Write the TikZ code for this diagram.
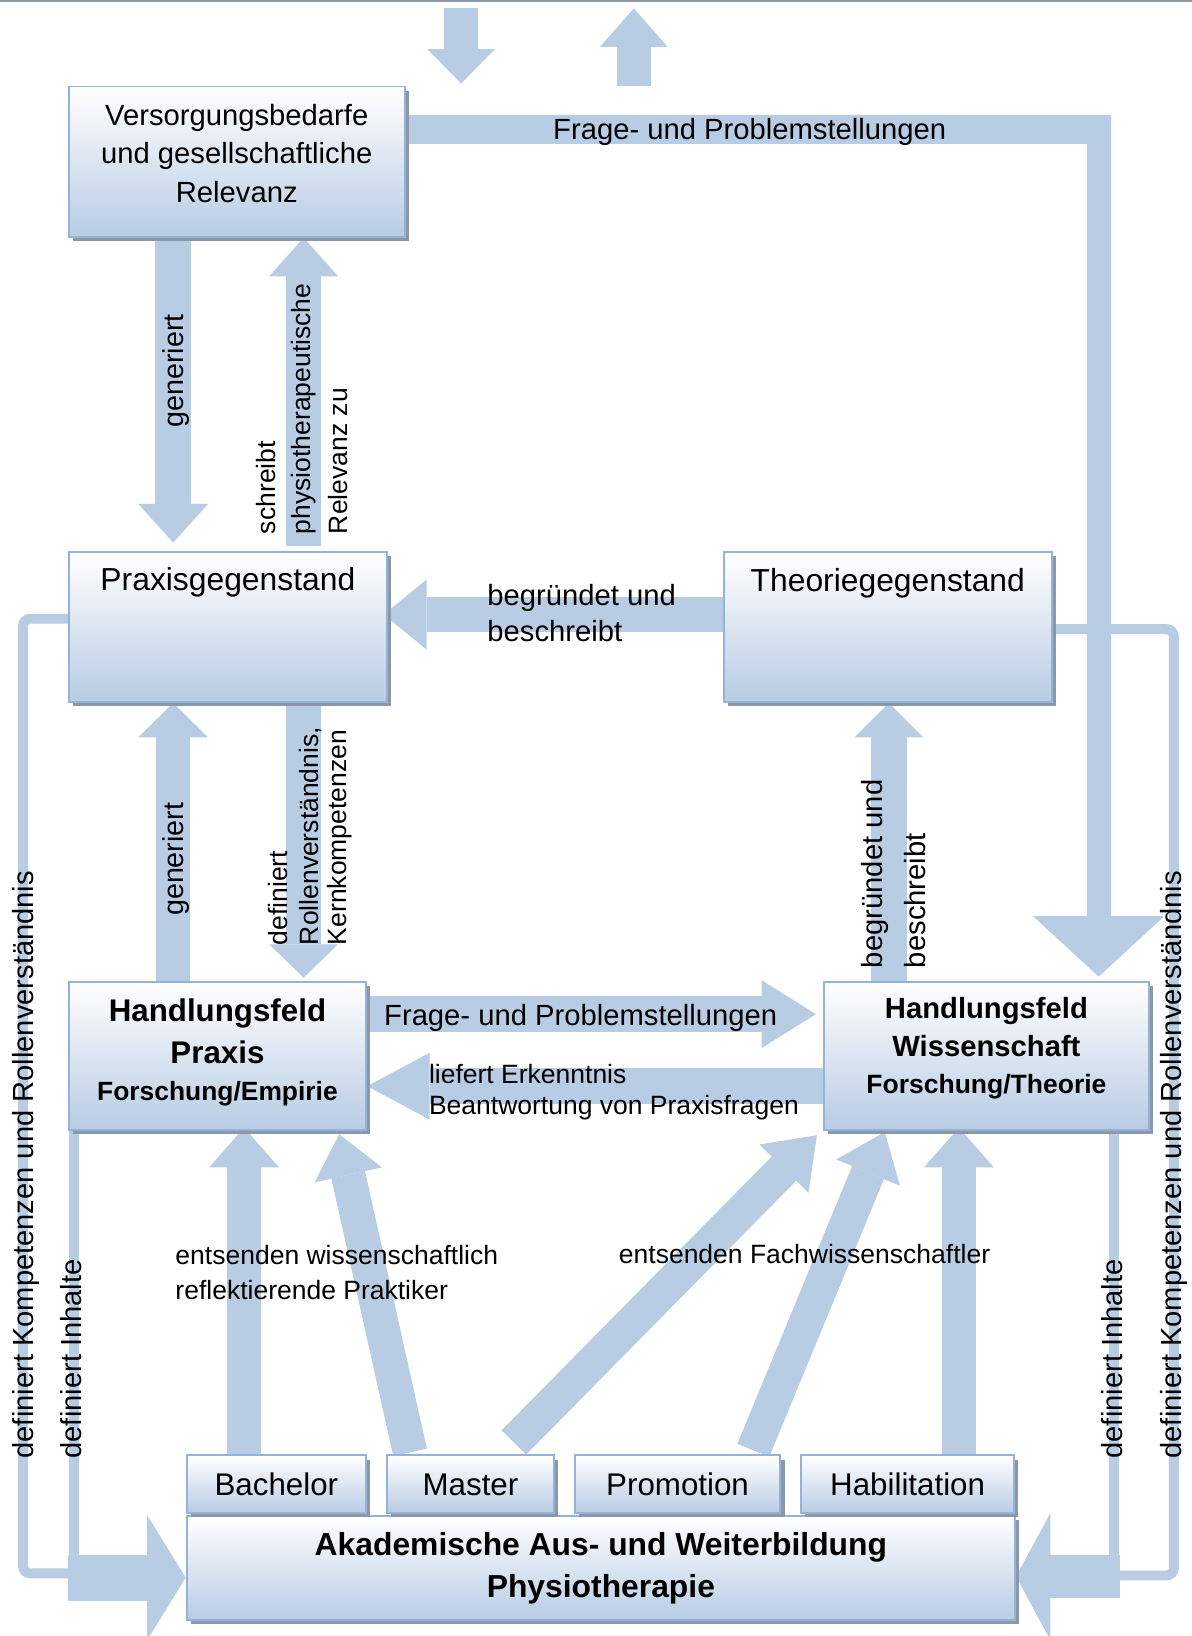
\documentclass[tikz,border=0pt]{standalone}
\usepackage{fontspec}
\setmainfont{Liberation Sans}
\usetikzlibrary{arrows.meta,shadows}
\definecolor{arrowblue}{RGB}{184,204,228}
\definecolor{boxborder}{RGB}{149,179,215}
\definecolor{boxblue}{RGB}{184,204,228}
\definecolor{shadowgray}{RGB}{140,152,170}
\newcommand{\fs}[1]{\fontsize{#1}{#1}\selectfont}
\pgfdeclarelayer{bg}
\pgfsetlayers{bg,main}
\tikzset{
  box/.style={draw=boxborder, line width=1.8pt, top color=white, bottom color=boxblue,
    inner sep=0pt, anchor=north west,
    drop shadow={shadow xshift=4pt, shadow yshift=-4pt, fill=shadowgray, opacity=1}},
  barrow/.style n args={3}{draw=arrowblue, line width=#1, line cap=butt,
    -{Triangle[width=#2, length=#3, line width=0pt]}},
  thinl/.style={draw=arrowblue, line width=9.5pt, rounded corners=7pt},
  lab/.style={inner sep=0pt, text=black},
}
\begin{document}
\begin{tikzpicture}[x=1pt,y=-1pt]
\useasboundingbox (0,0) rectangle (1142,1568);
\clip (0,0) rectangle (1142,1568);
% boxes
\node[box, minimum width=322pt, minimum height=144pt] (vers) at (65,82) {};
\node[box, minimum width=305pt, minimum height=144pt] (praxg) at (65,528) {};
\node[box, minimum width=314pt, minimum height=144pt] (theog) at (693,528) {};
\node[box, minimum width=285pt, minimum height=142pt] (hp) at (65,940) {};
\node[box, minimum width=311pt, minimum height=142pt] (hw) at (789,940) {};
\node[box, minimum width=794pt, minimum height=100pt] (akad) at (178,1452) {};
\node[box, minimum width=172pt, minimum height=55pt] (bach) at (178,1394) {};
\node[box, minimum width=160pt, minimum height=55pt] (mast) at (370,1394) {};
\node[box, minimum width=197pt, minimum height=55pt] (prom) at (550,1394) {};
\node[box, minimum width=204pt, minimum height=55pt] (habil) at (767,1394) {};

\begin{pgfonlayer}{bg}
\fill[white] (0,0) rectangle (1142,1568);
\draw[shadowgray, line width=1.5pt] (0,0.8) -- (1142,0.8);
% top free arrows
\coordinate (ta1) at (442,8); \coordinate (ta2) at (442,80);
\draw[barrow={32pt}{65pt}{33pt}] (ta1) -- (ta2);
\coordinate (tb1) at (607.5,82); \coordinate (tb2) at (607.5,8);
\draw[barrow={33pt}{65pt}{37pt}] (tb1) -- (tb2);
% L-shaped arrow Frage- und Problemstellungen
\coordinate (ltip) at (1053,936);
\fill[arrowblue] (vers.east |- 0,110) -- (1065,110) -- (1065,878) -- (1116,878) -- (ltip)
  -- (990,878) -- (1042,878) -- (1042,138) -- (vers.east |- 0,138) -- cycle;
% vertical arrows between boxes
\draw[barrow={34pt}{67pt}{37pt}, shorten >=8pt] (vers.south -| 166,0) -- (praxg.north -| 166,0);
\draw[barrow={33pt}{66pt}{37pt}, shorten <=5pt] (praxg.north -| 291,0) -- (vers.south -| 291,0);
\draw[barrow={33pt}{67pt}{41pt}, shorten >=-4pt] (theog.west |- 0,589) -- (praxg.east |- 0,589);
\draw[barrow={33pt}{67pt}{33pt}] (hp.north -| 166,0) -- (praxg.south -| 166,0);
\draw[barrow={33pt}{66pt}{32pt}, shorten >=3pt] (praxg.south -| 291,0) -- (hp.north -| 291,0);
\draw[barrow={34pt}{66pt}{33pt}] (hw.north -| 852,0) -- (theog.south -| 852,0);
% horizontal arrows between Handlungsfelder
\draw[barrow={35pt}{65pt}{52pt}, shorten >=7pt] (hp.east |- 0,972) -- (hw.west |- 0,972);
\draw[barrow={34pt}{64pt}{60pt}] (hw.west |- 0,1041) -- (hp.east |- 0,1041);
% arrows from the degrees
\draw[barrow={32pt}{67pt}{38pt}, shorten >=-3pt] (bach.north -| 234,0) -- (hp.south -| 234,0);
\draw[barrow={32pt}{67pt}{38pt}, shorten >=-3pt] (habil.north -| 919,0) -- (hw.south -| 919,0);
\coordinate (m1) at (393,1392); \coordinate (m1t) at (325,1087);
\draw[barrow={33pt}{66pt}{40pt}] (m1) -- (m1t);
\coordinate (m2) at (492.5,1382.5); \coordinate (m2t) at (783,1088);
\draw[barrow={33pt}{66pt}{45pt}] (m2) -- (m2t);
\coordinate (p1) at (722,1390); \coordinate (p1t) at (848,1085);
\draw[barrow={33pt}{66pt}{42pt}] (p1) -- (p1t);
% thin lines and big bottom arrows
\coordinate (lbig) at (65,1512);
\coordinate (rbig) at (1073,1511);
\draw[thinl] (praxg.west |- 0,593) -| (22,1508) -- (lbig |- 0,1508);
\draw[thinl] (hp.south -| 70.5,0) -- (70.5,1500);
\draw[thinl] (theog.east |- 0,603) -| (1125,1510) -- (rbig |- 0,1510);
\draw[thinl] (hw.south -| 1068,0) -- (1068,1500);
\draw[barrow={44pt}{120pt}{37pt}] (lbig) -- (akad.west |- 0,1512);
\draw[barrow={42pt}{122pt}{33pt}] (rbig) -- (akad.east |- 0,1511);
\end{pgfonlayer}

% box texts
\node[lab, anchor=base, font=\fs{28}] (v1) at (vers.north |- 0,120) {Versorgungsbedarfe};
\node[lab, anchor=base, font=\fs{28}] (v2) at (vers.north |- 0,157) {und gesellschaftliche};
\node[lab, anchor=base, font=\fs{28}] (v3) at (vers.north |- 0,194) {Relevanz};
\node[lab, anchor=base, font=\fs{30.5}] (pgt) at (praxg.north |- 0,566) {Praxisgegenstand};
\node[lab, anchor=base, font=\fs{30.5}] (tgt) at (theog.north |- 0,567) {Theoriegegenstand};
\node[lab, anchor=base, font=\bfseries\fs{30}] (hp1) at (hp.north |- 0,979) {Handlungsfeld};
\node[lab, anchor=base, font=\bfseries\fs{30}] (hp2) at (hp.north |- 0,1019) {Praxis};
\node[lab, anchor=base, font=\bfseries\fs{25.3}] (hp3) at (hp.north |- 0,1055) {Forschung/Empirie};
\node[lab, anchor=base, font=\bfseries\fs{28}] (hw1) at (hw.north |- 0,976) {Handlungsfeld};
\node[lab, anchor=base, font=\bfseries\fs{28}] (hw2) at (hw.north |- 0,1013) {Wissenschaft};
\node[lab, anchor=base, font=\bfseries\fs{25.4}] (hw3) at (hw.north |- 0,1048) {Forschung/Theorie};
\node[lab, anchor=base, font=\fs{30}] (bt) at (bach.north |- 0,1433) {Bachelor};
\node[lab, anchor=base, font=\fs{30}] (mt) at (mast.north |- 0,1433) {Master};
\node[lab, anchor=base, font=\fs{30}] (prt) at (prom.north |- 0,1433) {Promotion};
\node[lab, anchor=base, font=\fs{30}] (ht) at (habil.north |- 0,1433) {Habilitation};
\node[lab, anchor=base, font=\bfseries\fs{30.5}] (a1) at (akad.north |- 0,1491) {Akademische Aus- und Weiterbildung};
\node[lab, anchor=base, font=\bfseries\fs{30.5}] (a2) at (akad.north |- 0,1531) {Physiotherapie};

% horizontal labels
\node[lab, anchor=base west, font=\fs{28}] (lf1) at (530,134) {Frage- und Problemstellungen};
\node[lab, anchor=base west, font=\fs{28}] (lb1) at (467,580) {begründet und};
\node[lab, anchor=base west, font=\fs{28}] (lb2) at (467,615) {beschreibt};
\node[lab, anchor=base west, font=\fs{28}] (lf2) at (368,983) {Frage- und Problemstellungen};
\node[lab, anchor=base west, font=\fs{25.4}] (ll1) at (411,1038) {liefert Erkenntnis};
\node[lab, anchor=base west, font=\fs{25.4}] (ll2) at (411,1068) {Beantwortung von Praxisfragen};
\node[lab, anchor=base west, font=\fs{25.4}] (le1) at (168,1212) {entsenden wissenschaftlich};
\node[lab, anchor=base west, font=\fs{25.4}] (le2) at (168,1245) {reflektierende Praktiker};
\node[lab, anchor=base west, font=\fs{25.4}] (le3) at (593,1211) {entsenden Fachwissenschaftler};

% rotated labels
\node[lab, rotate=90, anchor=base west, font=\fs{27.5}] (rg1) at (176,410) {generiert};
\node[lab, rotate=90, anchor=base west, font=\fs{25.4}] (rs1) at (264,512) {schreibt};
\node[lab, rotate=90, anchor=base west, font=\fs{25.4}] (rs2) at (298,512) {physiotherapeutische};
\node[lab, rotate=90, anchor=base west, font=\fs{25.4}] (rs3) at (333,512) {Relevanz zu};
\node[lab, rotate=90, anchor=base west, font=\fs{27.5}] (rg2) at (176,878) {generiert};
\node[lab, rotate=90, anchor=base west, font=\fs{25.4}] (rd1) at (276,906) {definiert};
\node[lab, rotate=90, anchor=base west, font=\fs{25.4}] (rd2) at (305,906) {Rollenverständnis,};
\node[lab, rotate=90, anchor=base west, font=\fs{25.4}] (rd3) at (332,906) {Kernkompetenzen};
\node[lab, rotate=90, anchor=base west, font=\fs{28}] (rb1) at (846,928) {begründet und};
\node[lab, rotate=90, anchor=base west, font=\fs{28}] (rb2) at (887,928) {beschreibt};
\node[lab, rotate=90, anchor=base west, font=\fs{27.9}] (rk1) at (32,1398) {definiert Kompetenzen und Rollenverständnis};
\node[lab, rotate=90, anchor=base west, font=\fs{27.9}] (ri1) at (78.5,1398) {definiert Inhalte};
\node[lab, rotate=90, anchor=base west, font=\fs{27.9}] (ri2) at (1076,1398) {definiert Inhalte};
\node[lab, rotate=90, anchor=base west, font=\fs{27.9}] (rk2) at (1132,1398) {definiert Kompetenzen und Rollenverständnis};
\end{tikzpicture}
\end{document}
